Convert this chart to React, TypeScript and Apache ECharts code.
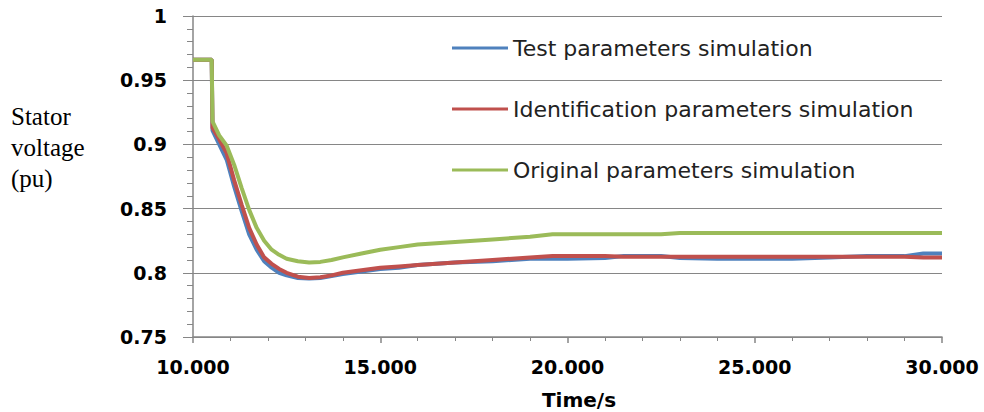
import React, { useEffect, useRef } from "react";
import * as echarts from "echarts";

const time = [10.0, 10.5, 10.52, 10.7, 10.9, 11.1, 11.3, 11.5, 11.7, 11.9, 12.1, 12.3, 12.5, 12.8, 13.1, 13.4, 13.7, 14.0, 14.5, 15.0, 15.5, 16.0, 17.0, 18.0, 19.0, 19.6, 20.0, 21.0, 21.5, 22.5, 23.0, 24.0, 25.0, 26.0, 27.0, 28.0, 29.0, 29.5, 30.0];

const testVoltage = [0.966, 0.966, 0.911, 0.900, 0.888, 0.867, 0.848, 0.830, 0.818, 0.809, 0.804, 0.800, 0.798, 0.796, 0.7955, 0.796, 0.7975, 0.799, 0.801, 0.803, 0.804, 0.806, 0.808, 0.809, 0.811, 0.811, 0.811, 0.8115, 0.813, 0.813, 0.8115, 0.811, 0.811, 0.811, 0.812, 0.813, 0.813, 0.815, 0.815];

const identVoltage = [0.966, 0.966, 0.913, 0.904, 0.893, 0.872, 0.853, 0.835, 0.822, 0.812, 0.807, 0.803, 0.800, 0.797, 0.796, 0.7965, 0.798, 0.800, 0.802, 0.804, 0.805, 0.806, 0.808, 0.810, 0.812, 0.813, 0.813, 0.813, 0.8125, 0.8125, 0.8125, 0.8125, 0.8125, 0.8125, 0.8125, 0.8125, 0.8125, 0.812, 0.812];

const origVoltage = [0.966, 0.966, 0.918, 0.907, 0.899, 0.884, 0.866, 0.849, 0.835, 0.825, 0.818, 0.814, 0.811, 0.809, 0.808, 0.8085, 0.810, 0.812, 0.815, 0.818, 0.820, 0.822, 0.824, 0.826, 0.828, 0.830, 0.830, 0.830, 0.830, 0.830, 0.831, 0.831, 0.831, 0.831, 0.831, 0.831, 0.831, 0.831, 0.831];

const seriesNames = [
  "Test parameters simulation",
  "Identification parameters simulation",
  "Original parameters simulation",
];
const seriesColors = ["#4F81BD", "#C0504D", "#9BBB59"];
const yLabelLines = ["Stator", "voltage", "(pu)"];
const xAxisName = "Time/s";

const pairs = (vals: number[]) => time.map((t, i) => [t, vals[i]]);

export default function App() {
  const ref = useRef<HTMLDivElement>(null);
  useEffect(() => {
    document.body.style.margin = "0";
    if (!ref.current) return;
    const chart = echarts.init(ref.current, undefined, { renderer: "svg" });
    const axisGray = "#868686";
    const labelFont = {
      fontFamily: "DejaVu Sans",
      fontWeight: "bold" as const,
      fontSize: 19,
      color: "#000",
    };
    const allVals = [testVoltage, identVoltage, origVoltage];
    chart.setOption({
      animation: false,
      backgroundColor: "#fff",
      grid: { left: 193, right: 42, top: 16, bottom: 75 },
      legend: {
        orient: "vertical",
        left: 447,
        top: 32,
        itemWidth: 56,
        itemHeight: 3,
        itemGap: 39,
        icon: "rect",
        data: seriesNames,
        textStyle: {
          fontFamily: "DejaVu Sans",
          fontSize: 22,
          color: "#222",
          lineHeight: 22,
        },
      },
      xAxis: {
        type: "value",
        min: 10,
        max: 30,
        interval: 5,
        axisLine: { show: true, lineStyle: { color: axisGray, width: 1.5 } },
        axisTick: { show: true, length: 6, lineStyle: { color: axisGray, width: 1.5 } },
        minorTick: { show: true, splitNumber: 5, length: 4, lineStyle: { color: axisGray } },
        splitLine: { show: false },
        axisLabel: { ...labelFont, margin: 20, formatter: (v: number) => v.toFixed(3) },
      },
      yAxis: {
        type: "value",
        min: 0.75,
        max: 1,
        interval: 0.05,
        axisLine: { show: true, lineStyle: { color: axisGray, width: 1.5 } },
        axisTick: { show: true, length: 10, lineStyle: { color: axisGray } },
        minorTick: { show: true, splitNumber: 5, length: 6, lineStyle: { color: axisGray } },
        splitLine: { show: true, lineStyle: { color: axisGray, width: 1 } },
        axisLabel: {
          ...labelFont,
          margin: 26,
          formatter: (v: number) => String(parseFloat(v.toFixed(2))),
        },
      },
      series: seriesNames.map((name, i) => ({
        name,
        type: "line",
        data: pairs(allVals[i]),
        showSymbol: false,
        symbol: "none",
        color: seriesColors[i],
        lineStyle: { width: 4, color: seriesColors[i] },
        z: 2 + i,
      })),
      graphic: [
        ...yLabelLines.map((line, i) => ({
          type: "text",
          x: 11,
          y: 116 + i * 31,
          style: {
            text: line,
            font: "25px 'Liberation Serif'",
            fill: "#000",
            verticalAlign: "middle",
          },
        })),
        {
          type: "text",
          x: 579,
          y: 400,
          style: {
            text: xAxisName,
            font: "bold 20px 'DejaVu Sans'",
            fill: "#000",
            align: "center",
            verticalAlign: "middle",
          },
        },
      ],
    });
    return () => chart.dispose();
  }, []);
  return <div ref={ref} style={{ width: 984, height: 412 }} />;
}
